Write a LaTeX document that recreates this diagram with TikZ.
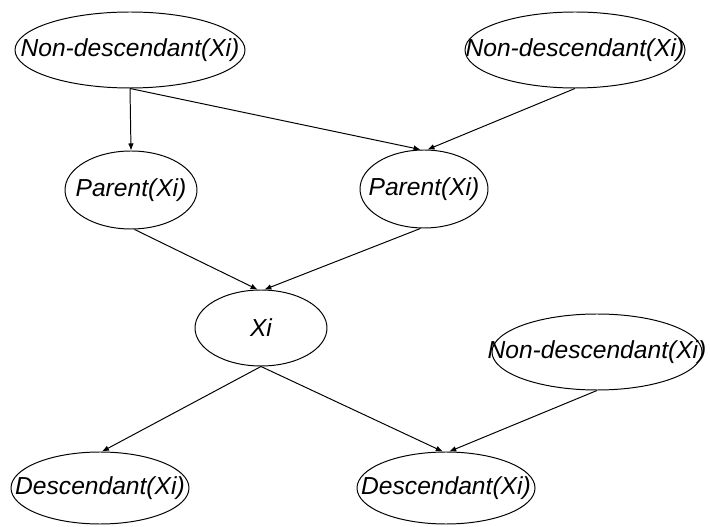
\documentclass[tikz,border=0pt]{standalone}
\usepackage{fontspec}
\setmainfont{Liberation Sans}
\usetikzlibrary{shapes.geometric, arrows.meta}

\tikzset{
    noeud/.style={ellipse, draw, inner sep=0pt, font=\itshape\fontsize{17.5}{20}\selectfont},
    large/.style={minimum width=#1, minimum height=1.9cm},
}

\begin{document}
\begin{tikzpicture}[>={Latex[length=5pt,width=4pt]}, line width=0.7pt]
    \useasboundingbox (0,0) rectangle (17.75,-13.175);

    % Non-descendants en haut
    \node[noeud, large=5.75cm] (nd1) at (3.25,-1.25) {\makebox[0pt]{Non-descendant(Xi)}};
    \node[noeud, large=5.5cm] (nd2) at (14.375,-1.25) {\makebox[0pt]{Non-descendant(Xi)}};

    % Parents
    \node[noeud, large=3.3cm, minimum height=1.95cm] (p1) at (3.275,-4.75) {\makebox[0pt]{Parent(Xi)}};
    \node[noeud, large=3.2cm, minimum height=1.95cm] (p2) at (10.6,-4.725) {\makebox[0pt]{Parent(Xi)}};

    % Le noeud Xi et l'autre non-descendant
    \node[noeud, large=3.3cm] (xi) at (6.525,-8.2) {\makebox[0pt]{Xi}};
    \node[noeud, large=5.25cm] (nd3) at (14.925,-8.8) {\makebox[0pt]{Non-descendant(Xi)}};

    % Descendants
    \node[noeud, large=4.45cm, minimum height=1.8cm] (d1) at (2.5,-12.2) {\makebox[0pt]{Descendant(Xi)}};
    \node[noeud, large=4.45cm, minimum height=1.8cm] (d2) at (11.15,-12.2) {\makebox[0pt]{Descendant(Xi)}};

    % Arcs vers les parents
    \draw[->] (nd1.south) -- (p1.north);
    \draw[->] (nd1.south) -- (p2.95);
    \draw[->] (nd2.south) -- (p2.85);

    % Arcs vers Xi
    \draw[->] (p1.-85) -- (xi.95);
    \draw[->] (p2.-95) -- (xi.85);

    % Arcs vers les descendants
    \draw[->] (xi.south) -- (d1.87);
    \draw[->] (xi.south) -- (d2.95);
    \draw[->] (nd3.south) -- (d2.85);

\end{tikzpicture}
\end{document}
